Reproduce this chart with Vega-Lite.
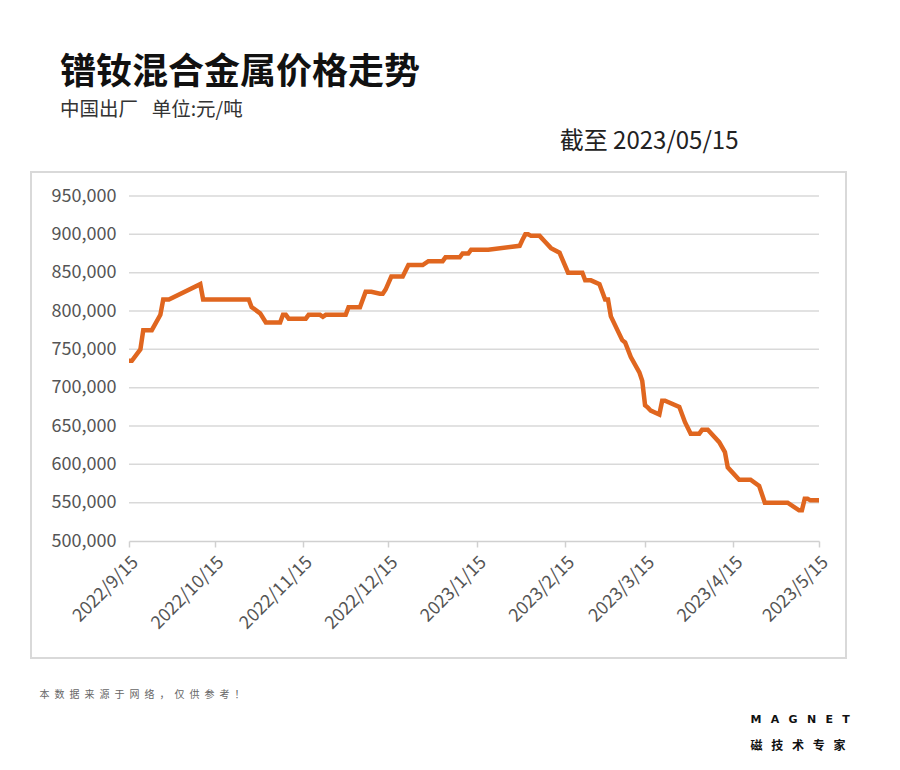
{
  "$schema": "https://vega.github.io/schema/vega-lite/v6.json",
  "width": 815,
  "height": 486,
  "autosize": {"type": "none"},
  "padding": {"left": 31, "top": 172, "right": 54, "bottom": 112},
  "background": "white",
  "config": {"view": {"stroke": "#d9d9d9", "strokeWidth": 2}, "font": "Noto Sans CJK SC"},
  "title": {
    "text": "镨钕混合金属价格走势",
    "subtitle": "中国出厂\u2002\u2009单位:元/吨",
    "anchor": "start",
    "frame": "group",
    "fontSize": 36,
    "fontWeight": "bold",
    "color": "#111111",
    "subtitleFontSize": 19.5,
    "subtitleColor": "#333333",
    "subtitlePadding": 9,
    "dx": 29,
    "dy": -5
  },
  "resolve": {"axis": {"x": "independent", "y": "independent"}},
  "layer": [
    {
      "data": {"values": [{"v": 550000}, {"v": 600000}, {"v": 650000}, {"v": 700000}, {"v": 750000}, {"v": 800000}, {"v": 850000}, {"v": 900000}, {"v": 950000}]},
      "mark": {"type": "rule", "color": "#d9d9d9", "strokeWidth": 1.5},
      "encoding": {
        "y": {"field": "v", "type": "quantitative",
          "scale": {"domain": [500000, 950000], "range": [369, 24]},
          "axis": {"orient": "right", "labels": false, "ticks": false, "domain": false, "grid": false,
            "title": "磁\u2002 技\u2002 术\u2002 专\u2002 家", "titleAngle": 0, "titleX": -96, "titleY": 573, "titleAlign": "left", "titleBaseline": "middle",
            "titleFontSize": 12, "titleFontWeight": "bold", "titleColor": "#111111"}},
        "x": {"datum": {"year": 2022, "month": 9, "date": 15}, "type": "temporal",
          "scale": {"domain": [{"year": 2022, "month": 9, "date": 15}, {"year": 2023, "month": 5, "date": 15}], "range": [98, 788]},
          "axis": {"orient": "top", "labels": false, "ticks": false, "domain": false, "grid": false,
            "title": "M\u2002 A\u2002 G\u2002 N\u2002 E\u2002 T", "titleAngle": 0, "titleX": 719, "titleY": 547, "titleAlign": "left", "titleBaseline": "middle",
            "titleFontSize": 11, "titleFontWeight": "bold", "titleColor": "#111111", "titleFont": "DejaVu Sans"}},
        "x2": {"datum": {"year": 2023, "month": 5, "date": 15}}
      }
    },
    {
      "data": {"values": [
        {"date": "2022/09/15", "price": 735000},
        {"date": "2022/09/16", "price": 735000},
        {"date": "2022/09/19", "price": 750000},
        {"date": "2022/09/20", "price": 775000},
        {"date": "2022/09/23", "price": 775000},
        {"date": "2022/09/26", "price": 795000},
        {"date": "2022/09/27", "price": 815000},
        {"date": "2022/09/29", "price": 815000},
        {"date": "2022/10/10", "price": 835000},
        {"date": "2022/10/11", "price": 815000},
        {"date": "2022/10/27", "price": 815000},
        {"date": "2022/10/28", "price": 805000},
        {"date": "2022/10/31", "price": 797000},
        {"date": "2022/11/02", "price": 785000},
        {"date": "2022/11/07", "price": 785000},
        {"date": "2022/11/08", "price": 795000},
        {"date": "2022/11/09", "price": 795000},
        {"date": "2022/11/10", "price": 790000},
        {"date": "2022/11/16", "price": 790000},
        {"date": "2022/11/17", "price": 795000},
        {"date": "2022/11/21", "price": 795000},
        {"date": "2022/11/22", "price": 792500},
        {"date": "2022/11/23", "price": 795000},
        {"date": "2022/11/30", "price": 795000},
        {"date": "2022/12/01", "price": 805000},
        {"date": "2022/12/05", "price": 805000},
        {"date": "2022/12/07", "price": 825000},
        {"date": "2022/12/09", "price": 825000},
        {"date": "2022/12/12", "price": 822500},
        {"date": "2022/12/13", "price": 822500},
        {"date": "2022/12/14", "price": 828000},
        {"date": "2022/12/16", "price": 845000},
        {"date": "2022/12/20", "price": 845000},
        {"date": "2022/12/22", "price": 860000},
        {"date": "2022/12/27", "price": 860000},
        {"date": "2022/12/29", "price": 865000},
        {"date": "2023/01/03", "price": 865000},
        {"date": "2023/01/04", "price": 870000},
        {"date": "2023/01/09", "price": 870000},
        {"date": "2023/01/10", "price": 875000},
        {"date": "2023/01/12", "price": 875000},
        {"date": "2023/01/13", "price": 880000},
        {"date": "2023/01/19", "price": 880000},
        {"date": "2023/01/30", "price": 885000},
        {"date": "2023/01/31", "price": 893000},
        {"date": "2023/02/01", "price": 900000},
        {"date": "2023/02/02", "price": 900000},
        {"date": "2023/02/03", "price": 898000},
        {"date": "2023/02/06", "price": 898000},
        {"date": "2023/02/08", "price": 890000},
        {"date": "2023/02/10", "price": 882000},
        {"date": "2023/02/13", "price": 876000},
        {"date": "2023/02/16", "price": 850000},
        {"date": "2023/02/21", "price": 850000},
        {"date": "2023/02/22", "price": 840000},
        {"date": "2023/02/24", "price": 840000},
        {"date": "2023/02/27", "price": 835000},
        {"date": "2023/03/01", "price": 815000},
        {"date": "2023/03/02", "price": 815000},
        {"date": "2023/03/03", "price": 793000},
        {"date": "2023/03/07", "price": 762000},
        {"date": "2023/03/08", "price": 759000},
        {"date": "2023/03/10", "price": 740000},
        {"date": "2023/03/13", "price": 720000},
        {"date": "2023/03/14", "price": 709000},
        {"date": "2023/03/15", "price": 677000},
        {"date": "2023/03/16", "price": 674000},
        {"date": "2023/03/17", "price": 670000},
        {"date": "2023/03/20", "price": 665000},
        {"date": "2023/03/21", "price": 683000},
        {"date": "2023/03/22", "price": 683000},
        {"date": "2023/03/27", "price": 675000},
        {"date": "2023/03/29", "price": 655000},
        {"date": "2023/03/31", "price": 640000},
        {"date": "2023/04/03", "price": 640000},
        {"date": "2023/04/04", "price": 645000},
        {"date": "2023/04/06", "price": 645000},
        {"date": "2023/04/10", "price": 629000},
        {"date": "2023/04/12", "price": 616000},
        {"date": "2023/04/13", "price": 596000},
        {"date": "2023/04/17", "price": 580000},
        {"date": "2023/04/21", "price": 580000},
        {"date": "2023/04/24", "price": 572000},
        {"date": "2023/04/26", "price": 550000},
        {"date": "2023/05/04", "price": 550000},
        {"date": "2023/05/08", "price": 540000},
        {"date": "2023/05/09", "price": 540000},
        {"date": "2023/05/10", "price": 555000},
        {"date": "2023/05/11", "price": 555000},
        {"date": "2023/05/12", "price": 553000},
        {"date": "2023/05/15", "price": 553000}
      ]},
      "mark": {"type": "line", "color": "#e0661f", "strokeWidth": 4.5},
      "encoding": {
        "x": {"field": "date", "type": "temporal",
          "scale": {"domain": [{"year": 2022, "month": 9, "date": 15}, {"year": 2023, "month": 5, "date": 15}], "range": [98, 788]},
          "axis": {"orient": "bottom", "offset": -117, "grid": false,
            "values": [
              {"year": 2022, "month": 9, "date": 15},
              {"year": 2022, "month": 10, "date": 15},
              {"year": 2022, "month": 11, "date": 15},
              {"year": 2022, "month": 12, "date": 15},
              {"year": 2023, "month": 1, "date": 15},
              {"year": 2023, "month": 2, "date": 15},
              {"year": 2023, "month": 3, "date": 15},
              {"year": 2023, "month": 4, "date": 15},
              {"year": 2023, "month": 5, "date": 15}
            ],
            "format": "%Y/%-m/%-d", "labelAngle": -45, "labelFontSize": 18, "labelColor": "#555555", "labelPadding": 6,
            "domainColor": "#d0d0d0", "domainWidth": 1.5, "tickColor": "#d0d0d0", "tickWidth": 1.5, "tickSize": 6,
            "labelOverlap": false, "labelBound": false,
            "title": "本\u2002数\u2002据\u2002来\u2002源\u2002于\u2002网\u2002络\u2002，\u2002仅\u2002供\u2002参\u2002考\u2002！", "titleX": 8, "titleY": 156, "titleAlign": "left", "titleAnchor": "start",
            "titleBaseline": "alphabetic", "titleFontSize": 10, "titleFontWeight": "normal", "titleColor": "#666666", "titleAngle": 0}},
        "y": {"field": "price", "type": "quantitative",
          "scale": {"domain": [500000, 950000], "range": [369, 24]},
          "axis": {"orient": "left", "offset": -98, "grid": false, "ticks": false, "domain": false,
            "values": [500000, 550000, 600000, 650000, 700000, 750000, 800000, 850000, 900000, 950000],
            "format": ",d", "labelFontSize": 18, "labelColor": "#555555", "labelPadding": 13,
            "title": "截至 2023/05/15", "titleAngle": 0, "titleX": 609, "titleY": -24, "titleAlign": "right",
            "titleBaseline": "alphabetic", "titleFontSize": 24, "titleFontWeight": "normal", "titleColor": "#222222"}}
      }
    }
  ]
}
